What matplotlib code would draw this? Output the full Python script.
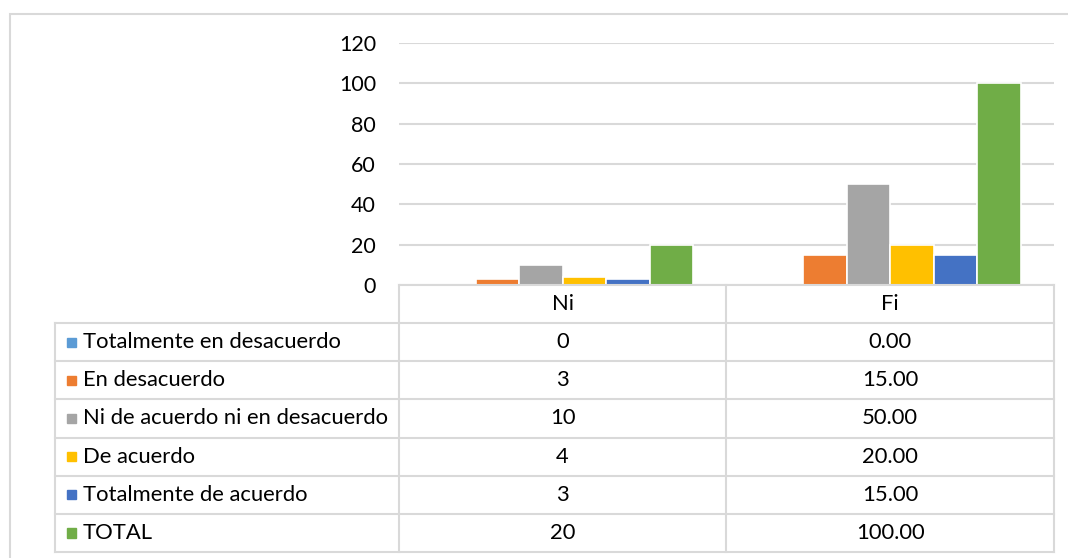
import matplotlib.pyplot as plt
from matplotlib.lines import Line2D
from matplotlib.patches import Rectangle

plt.rcParams['font.family'] = ['Lato', 'DejaVu Sans']

categories = ["Ni", "Fi"]
series = ["Totalmente en desacuerdo",
          "En desacuerdo",
          "Ni de acuerdo ni en desacuerdo",
          "De acuerdo",
          "Totalmente de acuerdo",
          "TOTAL"]
ni_values = [0, 3, 10, 4, 3, 20]
fi_values = [0.00, 15.00, 50.00, 20.00, 15.00, 100.00]
ni_labels = ["0", "3", "10", "4", "3", "20"]
fi_labels = ["0.00", "15.00", "50.00", "20.00", "15.00", "100.00"]

colors = ['#5b9bd5', '#ed7d31', '#a5a5a5', '#ffc000', '#4472c4', '#70ad47']

W, H = 1068, 558
fig = plt.figure(figsize=(W / 100, H / 100), dpi=100)

def frac(x0, y0, x1, y1):
    # pixel box (top-left origin) -> figure fraction rect
    return [x0 / W, 1 - y1 / H, (x1 - x0) / W, (y1 - y0) / H]

# outer chart frame
fig.add_artist(Rectangle((10 / W, -0.1), 1.2, 1 - 14 / H + 0.1,
                         transform=fig.transFigure, fill=False,
                         edgecolor='#d9d9d9', linewidth=1.5))

# --- bar chart ---
ax = fig.add_axes(frac(399, 43, 1054, 285))
bw = 0.133
for i, name in enumerate(series):
    vals = [ni_values[i], fi_values[i]]
    xs = [c + (i - 2.5) * bw for c in range(len(categories))]
    ax.bar(xs, vals, width=bw, color=colors[i], edgecolor='white',
           linewidth=1.2, zorder=3)

ax.set_xlim(-0.5, 1.5)
ax.set_ylim(0, 120)
ax.set_yticks(range(0, 121, 20))
ax.yaxis.grid(True, color='#d9d9d9', linewidth=1.5, zorder=0)
ax.set_xticks([])
ax.tick_params(axis='y', length=0, pad=16.5, labelsize=15.5, labelcolor='#000000')
for s in ax.spines.values():
    s.set_visible(False)

# --- data table ---
tx = [55, 399, 726, 1054]
tab = fig.add_axes(frac(55, 285, 1054, 552))
tab.set_xlim(55, 1054)
tab.set_ylim(len(series) + 1, 0)
tab.axis('off')

lc = '#d9d9d9'
lw = 1.5
tab.add_line(Line2D([tx[1], tx[3]], [0, 0], color=lc, lw=lw, clip_on=False))
for r in range(1, len(series) + 2):
    tab.add_line(Line2D([tx[0], tx[3]], [r, r], color=lc, lw=lw, clip_on=False))
tab.add_line(Line2D([tx[0], tx[0]], [1, len(series) + 1], color=lc, lw=lw, clip_on=False))
for x in tx[1:]:
    tab.add_line(Line2D([x, x], [0, len(series) + 1], color=lc, lw=lw, clip_on=False))

fs = 15.8
for j, cat in enumerate(categories):
    tab.text((tx[j + 1] + tx[j + 2]) / 2, 0.5, cat, ha='center', va='center', fontsize=fs)
for i, name in enumerate(series):
    y = i + 1.5
    tab.add_patch(Rectangle((67, y - 0.12), 8.5, 0.24, color=colors[i], clip_on=False))
    tab.text(83, y, name, ha='left', va='center', fontsize=fs)
    tab.text((tx[1] + tx[2]) / 2, y, ni_labels[i], ha='center', va='center', fontsize=fs)
    tab.text((tx[2] + tx[3]) / 2, y, fi_labels[i], ha='center', va='center', fontsize=fs)

fig.savefig('out.png', dpi=100)
